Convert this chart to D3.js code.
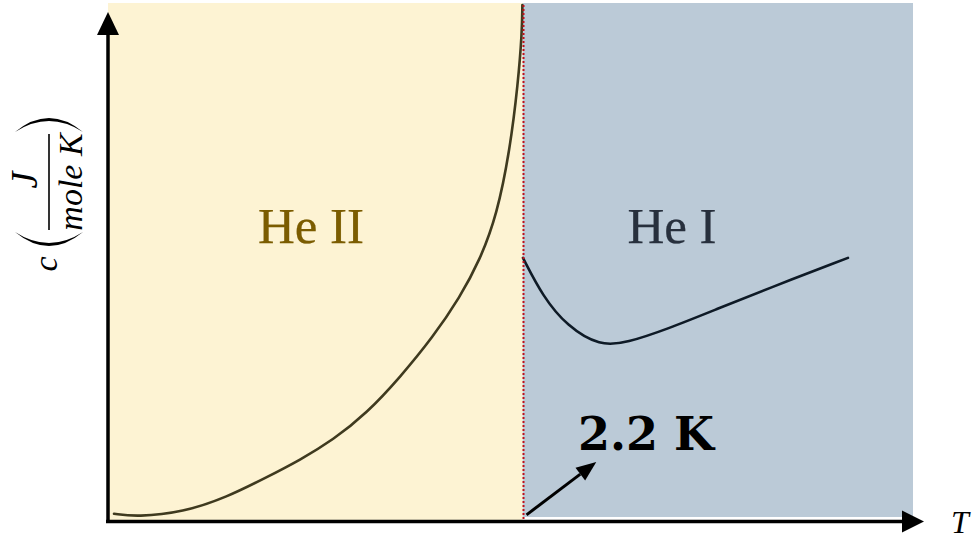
<!DOCTYPE html>
<html>
<head>
<meta charset="utf-8">
<script src="https://cdn.jsdelivr.net/npm/d3@7"></script>
<style>
  html, body { margin: 0; padding: 0; background: #ffffff; }
  svg { display: block; }
</style>
</head>
<body>
<svg id="chart" width="973" height="541"></svg>
<script>
// Specific heat of liquid helium around the lambda point (arbitrary units)
const lambdaT = 2.2;
const tMax = 4.27;
const cMax = 10;

// He II branch (below the lambda point)
const heIIT = [0.032, 0.154, 0.398, 0.631, 0.843, 1.018, 1.194, 1.374, 1.549, 1.724, 1.867, 1.973, 2.063, 2.132, 2.175, 2.196, 2.198];
const heIIC = [0.12, 0.06, 0.15, 0.44, 0.83, 1.16, 1.55, 2.07, 2.76, 3.54, 4.31, 5.03, 5.90, 7.16, 8.45, 9.42, 9.96];

// He I branch (above the lambda point)
const heIT = [2.201, 2.307, 2.435, 2.610, 2.753, 2.965, 3.230, 3.496, 3.925];
const heIC = [5.07, 4.32, 3.75, 3.36, 3.43, 3.69, 4.08, 4.47, 5.07];

// Phase regions and their labels
const phases = ["He II", "He I"];
const phaseBounds = [[0, lambdaT], [lambdaT, tMax]];
const phaseFill = ["#fdf3d3", "#bbcad7"];
const phaseText = ["#7b5c00", "#27303d"];
const phaseLabelT = [0.795, 2.755];
const phaseLabelC = [5.35, 5.35];

const svg = d3.select("#chart");

const x = d3.scaleLinear().domain([0, tMax]).range([108, 913]);
const y = d3.scaleLinear().domain([0, cMax]).range([520, 3]);

// background bands
svg.selectAll("rect.phase")
  .data(phaseBounds)
  .join("rect")
  .attr("class", "phase")
  .attr("x", d => x(d[0]))
  .attr("y", y(cMax))
  .attr("width", d => x(d[1]) - x(d[0]))
  .attr("height", (d, i) => y(0) - y(cMax) - (i === 1 ? 3 : 0))
  .attr("fill", (d, i) => phaseFill[i]);

const line = d3.line()
  .x(d => x(d[0]))
  .y(d => y(d[1]))
  .curve(d3.curveBasis);

svg.append("path")
  .datum(heIIT.map((t, i) => [t, heIIC[i]]))
  .attr("d", line)
  .attr("fill", "none")
  .attr("stroke", "#3f3a1f")
  .attr("stroke-width", 2.6)
  .attr("stroke-linecap", "round");

svg.append("path")
  .datum(heIT.map((t, i) => [t, heIC[i]]))
  .attr("d", line)
  .attr("fill", "none")
  .attr("stroke", "#0e1a26")
  .attr("stroke-width", 2.6)
  .attr("stroke-linecap", "round");

// lambda line (dotted)
const lx = Math.round(x(lambdaT)) + 0.5;
svg.append("line")
  .attr("x1", lx).attr("x2", lx)
  .attr("y1", y(cMax) + 2).attr("y2", y(0) + 4)
  .attr("stroke", "#c0101a")
  .attr("stroke-width", 2)
  .attr("stroke-dasharray", "2,2");

// phase labels
svg.selectAll("text.phase")
  .data(phases)
  .join("text")
  .attr("class", "phase")
  .attr("x", (d, i) => x(phaseLabelT[i]))
  .attr("y", (d, i) => y(phaseLabelC[i]))
  .attr("font-family", "'Liberation Serif', serif")
  .attr("font-size", 51)
  .attr("fill", (d, i) => phaseText[i])
  .attr("stroke", (d, i) => phaseText[i])
  .attr("stroke-width", 0.25)
  .text(d => d);

// axes with arrowheads
const axisG = svg.append("g");
axisG.append("line")
  .attr("x1", x(0)).attr("x2", x(0))
  .attr("y1", y(0) + 3).attr("y2", 32)
  .attr("stroke", "#000").attr("stroke-width", 3.5);
axisG.append("path")
  .attr("d", `M${x(0) - 11},35 L${x(0)},12 L${x(0) + 11},35 Z`)
  .attr("fill", "#000");
axisG.append("line")
  .attr("x1", x(0) - 2).attr("x2", 905)
  .attr("y1", y(0) + 1.5).attr("y2", y(0) + 1.5)
  .attr("stroke", "#000").attr("stroke-width", 3.5);
axisG.append("path")
  .attr("d", `M902,${y(0) + 1.5 - 11} L924,${y(0) + 1.5} L902,${y(0) + 1.5 + 11} Z`)
  .attr("fill", "#000");

// x-axis label
svg.append("text")
  .attr("x", 951).attr("y", 533)
  .attr("font-family", "'Liberation Serif', serif")
  .attr("font-style", "italic")
  .attr("font-size", 32)
  .attr("fill", "#000")
  .text("T");

// y-axis label: c ( J / mole K ), rotated
const yl = svg.append("g").attr("transform", "translate(49,182) rotate(-90)");
yl.append("line")
  .attr("x1", -48).attr("x2", 48).attr("y1", 0).attr("y2", 0)
  .attr("stroke", "#000").attr("stroke-width", 1.6);
yl.append("text")
  .attr("x", 2).attr("y", -12)
  .attr("text-anchor", "middle")
  .attr("font-family", "'Liberation Serif', serif")
  .attr("font-style", "italic")
  .attr("font-size", 38)
  .text("J");
yl.append("text")
  .attr("x", 0).attr("y", 33)
  .attr("text-anchor", "middle")
  .attr("font-family", "'Liberation Serif', serif")
  .attr("font-style", "italic")
  .attr("font-size", 34)
  .text("mole K");
yl.append("path")
  .attr("d", "M-50,-34 Q-78,0 -50,34 Q-72,0 -50,-34 Z")
  .attr("fill", "#000");
yl.append("path")
  .attr("d", "M50,-34 Q78,0 50,34 Q72,0 50,-34 Z")
  .attr("fill", "#000");
yl.append("text")
  .attr("x", -82).attr("y", 8)
  .attr("text-anchor", "middle")
  .attr("font-family", "'Liberation Serif', serif")
  .attr("font-style", "italic")
  .attr("font-size", 34)
  .text("c");

// lambda point annotation
const annoStart = [lambdaT + 0.02, 0.1];
const annoEnd = [lambdaT + 0.39, 1.12];
const ax1 = x(annoStart[0]), ay1 = y(annoStart[1]);
const ax2 = x(annoEnd[0]), ay2 = y(annoEnd[1]);
const ang = Math.atan2(ay2 - ay1, ax2 - ax1);
const headLen = 20, headW = 8;
const bx = ax2 - headLen * Math.cos(ang), by = ay2 - headLen * Math.sin(ang);
svg.append("line")
  .attr("x1", ax1).attr("y1", ay1).attr("x2", bx).attr("y2", by)
  .attr("stroke", "#000").attr("stroke-width", 3);
svg.append("path")
  .attr("d", `M${ax2},${ay2} L${bx + headW * Math.sin(ang)},${by - headW * Math.cos(ang)} L${bx - headW * Math.sin(ang)},${by + headW * Math.cos(ang)} Z`)
  .attr("fill", "#000");

svg.append("text")
  .attr("x", 578).attr("y", 450)
  .attr("font-family", "'DejaVu Serif', serif")
  .attr("font-weight", "bold")
  .attr("font-size", 46)
  .attr("fill", "#000")
  .text(lambdaT.toFixed(1) + " K");
</script>
</body>
</html>
